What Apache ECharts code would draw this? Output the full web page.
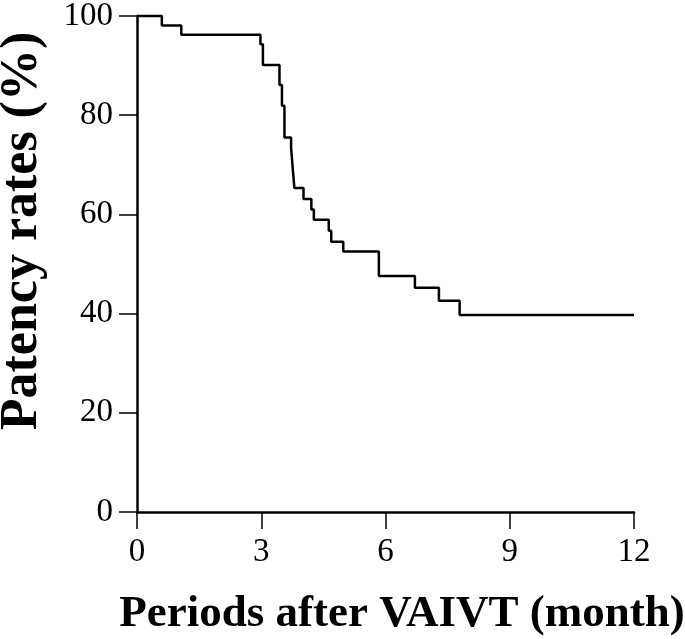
<!DOCTYPE html>
<html>
<head>
<meta charset="utf-8">
<script src="https://cdn.jsdelivr.net/npm/echarts@6/dist/echarts.min.js"></script>
<style>
html,body{margin:0;padding:0;background:#fff;}
#chart{width:685px;height:639px;}
</style>
</head>
<body>
<div id="chart"></div>
<script>
// Kaplan-Meier step points: time (months) and patency (%)
var months = [0, 0.60, 1.07, 2.98, 3.04, 3.44, 3.50, 3.56, 3.72, 3.76, 3.80, 4.02, 4.21, 4.27, 4.63, 4.69, 4.98, 5.84, 6.71, 7.29, 7.79, 12];
var patency = [100, 98.1, 96.2, 94.3, 90.1, 86.1, 81.9, 75.5, 73.5, 69.3, 65.3, 63.1, 61.0, 58.9, 56.7, 54.5, 52.5, 47.6, 45.2, 42.6, 39.7, 39.7];
var xTicks = [0, 3, 6, 9, 12];
var yTicks = [0, 20, 40, 60, 80, 100];
var xTitle = 'Periods after VAIVT (month)';
var yTitle = 'Patency rates (%)';

var pts = months.map(function (m, i) { return [m, patency[i]]; });
var font = 'Liberation Serif, Times New Roman, serif';

var chart = echarts.init(document.getElementById('chart'), null, {renderer: 'canvas'});
chart.setOption({
  animation: false,
  backgroundColor: '#fff',
  grid: {left: 137, right: 51, top: 16, bottom: 127, containLabel: false, outerBoundsMode: 'none'},
  xAxis: {
    type: 'value', min: xTicks[0], max: xTicks[xTicks.length - 1], interval: 3,
    name: xTitle, nameLocation: 'middle', nameGap: 80,
    nameTextStyle: {fontFamily: font, fontWeight: 'bold', fontSize: 45, color: '#000', padding: [0, 0, 0, 33]},
    axisLine: {show: true, onZero: false, lineStyle: {color: '#000', width: 2.5}},
    axisTick: {show: true, inside: false, length: 17, lineStyle: {color: '#000', width: 1.5}},
    axisLabel: {fontFamily: font, fontSize: 33, color: '#000', margin: 24},
    splitLine: {show: false}
  },
  yAxis: {
    type: 'value', min: yTicks[0], max: yTicks[yTicks.length - 1], interval: 20,
    name: yTitle, nameLocation: 'middle', nameGap: 88, nameRotate: 90,
    nameTextStyle: {fontFamily: font, fontWeight: 'bold', fontSize: 52, color: '#000', padding: [0, 0, 0, 66]},
    axisLine: {show: true, onZero: false, lineStyle: {color: '#000', width: 2.5}},
    axisTick: {show: true, inside: false, length: 18, lineStyle: {color: '#000', width: 1.5}},
    axisLabel: {fontFamily: font, fontSize: 33, color: '#000', margin: 24},
    splitLine: {show: false}
  },
  series: [{
    type: 'line', step: 'end', data: pts, showSymbol: false, symbol: 'none',
    lineStyle: {color: '#000', width: 2.5},
    clip: false
  }]
});
</script>
</body>
</html>
